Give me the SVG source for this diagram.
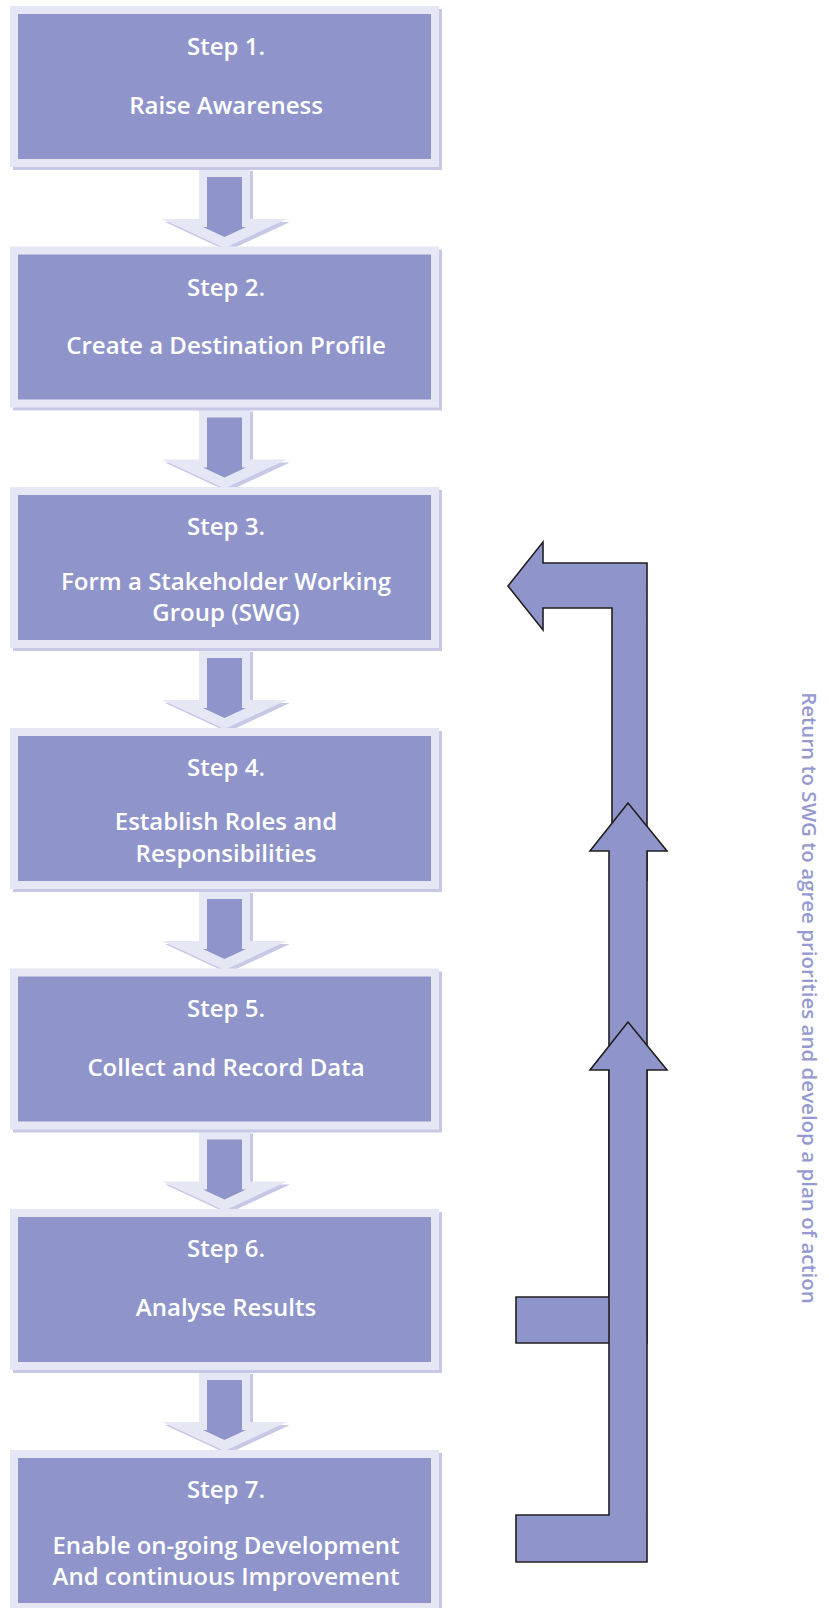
<svg xmlns="http://www.w3.org/2000/svg" xmlns:xlink="http://www.w3.org/1999/xlink" width="829" height="1608" viewBox="0 0 829 1608">
<style>
.shadow{fill:#c6c8e6}
.frame{fill:#e6e7f4}
.inner{fill:#8f95ca}
.lbl{font-family:"Open Sans","Liberation Sans",sans-serif;font-size:24px;font-weight:600;fill:#ffffff;text-anchor:middle}
.big{fill:#8f95ca;stroke:#231f20;stroke-width:1.6;stroke-linejoin:miter}
.side{font-family:"Open Sans","Liberation Sans",sans-serif;font-size:20.5px;font-weight:600;fill:#949ad0;text-anchor:middle}
</style>
<defs>
<g id="down">
<polygon class="shadow" points="202,165 253,165 253,216 290,216 227.5,245 165,216 202,216"/>
<polygon class="frame" points="199,162 250,162 250,213 287,213 224.5,242 162,213 199,213"/>
<polygon class="inner" points="207,171 242,171 242,221 246,221 224.5,231 203,221 207,221"/>
</g>
<g id="box">
<rect class="shadow" x="13" y="3" width="429" height="161"/>
<rect class="frame" x="10" y="0" width="429" height="161"/>
<rect class="inner" x="18" y="8" width="413" height="145"/>
</g>
</defs>
<g id="connectors">
<use xlink:href="#down" transform="translate(0,6)"/>
<use xlink:href="#down" transform="translate(0,246.5)"/>
<use xlink:href="#down" transform="translate(0,487)"/>
<use xlink:href="#down" transform="translate(0,728)"/>
<use xlink:href="#down" transform="translate(0,968.5)"/>
<use xlink:href="#down" transform="translate(0,1209)"/>
</g>
<g id="step1" transform="translate(0,6)">
<use xlink:href="#box"/>
<text class="lbl" x="226" y="49">Step 1.</text>
<text class="lbl" x="226" y="108">Raise Awareness</text>
</g>
<g id="step2" transform="translate(0,246.5)">
<use xlink:href="#box"/>
<text class="lbl" x="226" y="49">Step 2.</text>
<text class="lbl" x="226" y="107">Create a Destination Profile</text>
</g>
<g id="step3" transform="translate(0,487)">
<use xlink:href="#box"/>
<text class="lbl" x="226" y="48">Step 3.</text>
<text class="lbl" x="226" y="103">Form a Stakeholder Working</text>
<text class="lbl" x="226" y="134">Group (SWG)</text>
</g>
<g id="step4" transform="translate(0,728)">
<use xlink:href="#box"/>
<text class="lbl" x="226" y="48">Step 4.</text>
<text class="lbl" x="226" y="102">Establish Roles and</text>
<text class="lbl" x="226" y="134">Responsibilities</text>
</g>
<g id="step5" transform="translate(0,968.5)">
<use xlink:href="#box"/>
<text class="lbl" x="226" y="48">Step 5.</text>
<text class="lbl" x="226" y="107">Collect and Record Data</text>
</g>
<g id="step6" transform="translate(0,1209)">
<use xlink:href="#box"/>
<text class="lbl" x="226" y="48">Step 6.</text>
<text class="lbl" x="226" y="107">Analyse Results</text>
</g>
<g id="step7" transform="translate(0,1450)">
<use xlink:href="#box"/>
<text class="lbl" x="226" y="48">Step 7.</text>
<text class="lbl" x="226" y="104">Enable on-going Development</text>
<text class="lbl" x="226" y="135">And continuous Improvement</text>
</g>
<g id="feedback">
<polygon class="big" points="508,586 543,542 543,563 647,563 647,880 612,880 612,608 543,608 543,630"/>
<polygon class="big" points="628,803 667,851 647,851 647,1343 516,1343 516,1297 609,1297 609,851 590,851"/>
<polygon class="big" points="628,1022 667,1070 647,1070 647,1562 516,1562 516,1515 609,1515 609,1070 590,1070"/>
</g>
<g id="side-label">
<text class="side" transform="translate(802,998) rotate(90)">Return to SWG to agree priorities and develop a plan of action</text>
</g>
</svg>
